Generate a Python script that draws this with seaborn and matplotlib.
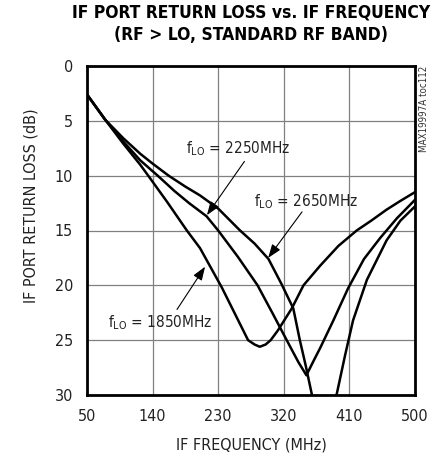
import matplotlib
matplotlib.use("Agg")
import numpy as np
import pandas as pd
import matplotlib.pyplot as plt
import seaborn as sns
from matplotlib import font_manager as fm

# ---- data ----
freq_1850 = [50, 75, 100, 123, 134, 160, 187, 205, 225, 235, 250, 262, 271, 280, 287, 295, 302, 312, 331, 347, 370, 395, 420, 440, 461, 480, 500]
rl_1850   = [2.6, 4.9, 7.1, 9.0, 10.0, 12.4, 15.0, 16.6, 19.0, 20.2, 22.2, 23.8, 25.0, 25.4, 25.6, 25.4, 25.0, 24.1, 22.1, 20.0, 18.2, 16.4, 15.0, 14.1, 13.1, 12.3, 11.5]

freq_2250 = [50, 75, 100, 123, 147, 170, 190, 214, 230, 257, 284, 305, 324, 340, 351, 360, 370, 388, 408, 430, 452, 475, 500]
rl_2250   = [2.6, 4.9, 6.9, 8.6, 10.0, 11.4, 12.5, 13.7, 15.0, 17.4, 20.0, 22.6, 25.0, 27.0, 28.2, 27.0, 25.7, 23.2, 20.3, 17.6, 15.7, 13.9, 12.2]

freq_2650 = [50, 75, 100, 123, 140, 162, 185, 205, 230, 260, 280, 299, 317, 333, 342, 350, 358, 376, 393, 404, 415, 434, 461, 480, 500]
rl_2650   = [2.6, 4.9, 6.6, 8.0, 8.9, 10.0, 11.0, 11.8, 13.0, 15.0, 16.2, 17.6, 19.9, 22.1, 25.0, 27.3, 29.8, 35.0, 29.8, 26.4, 23.2, 19.5, 15.9, 14.1, 12.8]

lo_labels = ["1850", "2250", "2650"]
x_ticks = [50, 140, 230, 320, 410, 500]
y_ticks = [0, 5, 10, 15, 20, 25, 30]

title_lines = ["IF PORT RETURN LOSS vs. IF FREQUENCY", "(RF > LO, STANDARD RF BAND)"]
x_label = "IF FREQUENCY (MHz)"
y_label = "IF PORT RETURN LOSS (dB)"
side_note = "MAX19997A toc112"

# annotation: (label, text pos, arrow start, arrow tip) in data units
annotations = [
    (r"$\mathrm{f_{LO}}$ = 2250MHz", (257, 7.5), (266, 8.7), (214.5, 13.6)),
    (r"$\mathrm{f_{LO}}$ = 2650MHz", (350.5, 12.4), (345, 13.3), (298.5, 17.5)),
    (r"$\mathrm{f_{LO}}$ = 1850MHz", (150, 23.4), (173.5, 22.2), (212, 18.3)),
]

# ---- build dataframe ----
df = pd.concat([
    pd.DataFrame({"freq": freq_1850, "rl": rl_1850, "lo": lo_labels[0]}),
    pd.DataFrame({"freq": freq_2250, "rl": rl_2250, "lo": lo_labels[1]}),
    pd.DataFrame({"freq": freq_2650, "rl": rl_2650, "lo": lo_labels[2]}),
], ignore_index=True)

sns.set_theme(style="white")
plt.rcParams['font.family'] = ['DejaVu Sans']
plt.rcParams['font.stretch'] = 'condensed'
plt.rcParams['mathtext.fontset'] = 'custom'
plt.rcParams['mathtext.rm'] = 'DejaVu Sans:stretch=condensed'
plt.rcParams['mathtext.it'] = 'DejaVu Sans:stretch=condensed'

W, H = 438, 457
fig = plt.figure(figsize=(W / 100, H / 100), dpi=100)
ax = fig.add_axes([87 / W, 1 - 395 / H, 328 / W, 329 / H])

sns.lineplot(data=df, x="freq", y="rl", hue="lo", palette=["black"] * 3,
             estimator=None, sort=False, legend=False, linewidth=1.8, ax=ax)

ax.set_xlim(50, 500)
ax.set_ylim(30, 0)
ax.set_xticks(x_ticks)
ax.set_yticks(y_ticks)
ax.set_axisbelow(True)
ax.grid(True, color="#808080", linewidth=0.9)
for s in ax.spines.values():
    s.set_visible(True)
    s.set_color("black")
    s.set_linewidth(2.0)
ax.tick_params(axis="both", length=0, labelsize=11.5, colors="#222222")
ax.tick_params(axis="x", pad=10)
ax.tick_params(axis="y", pad=10)
ax.set_xlabel("")
ax.set_ylabel("")

for label, tpos, start, tip in annotations:
    ax.text(tpos[0], tpos[1], label, ha="center", va="center", fontsize=11, color="#222222")
    ax.annotate("", xy=tip, xytext=start,
                arrowprops=dict(arrowstyle="-|>,head_length=0.55,head_width=0.2",
                                color="black", lw=0.8, mutation_scale=15,
                                shrinkA=0, shrinkB=0))

fig.text(251 / W, 1 - 12 / H, title_lines[0], ha="center", va="center",
         fontsize=12.5, fontweight="bold", color="black")
fig.text(251 / W, 1 - 35 / H, title_lines[1], ha="center", va="center",
         fontsize=12.5, fontweight="bold", color="black")
fig.text(251 / W, 1 - 445 / H, x_label, ha="center", va="center", fontsize=11.5, color="#222222")
fig.text(31 / W, 1 - 206 / H, y_label, ha="center", va="center", rotation=90,
         fontsize=11.5, color="#222222")
fig.text(424 / W, 1 - 109 / H, side_note, ha="center", va="center", rotation=90,
         fontsize=7, color="#333333")

fig.savefig("out.png", dpi=100)
